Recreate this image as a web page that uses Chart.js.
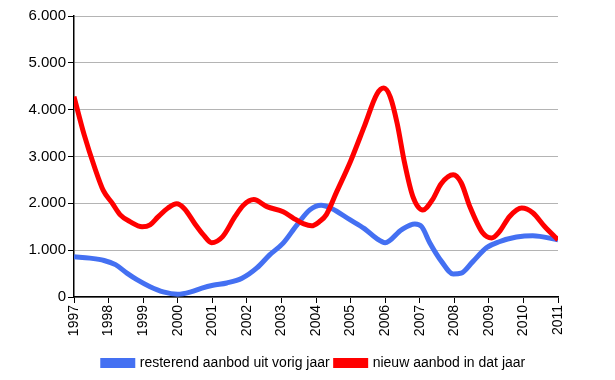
<!DOCTYPE html>
<html>
<head>
<meta charset="utf-8">
<script src="https://cdn.jsdelivr.net/npm/chart.js@4/dist/chart.umd.min.js"></script>
<style>
  html, body { margin: 0; padding: 0; background: #fff; }
  #wrap { width: 615px; height: 380px; }
</style>
</head>
<body>
<div id="wrap"><canvas id="myChart" width="615" height="380"></canvas></div>
<script>
// Reeksen
const blueLabel = 'resterend aanbod uit vorig jaar';
const redLabel = 'nieuw aanbod in dat jaar';

const blueYears  = [1997, 1997.46, 1997.87, 1998.2, 1998.53, 1998.82, 1999.2, 1999.58, 2000, 2000.38, 2000.7, 2001.02, 2001.42, 2001.86, 2002.29, 2002.66, 2003.05, 2003.45, 2003.82, 2004.15, 2004.45, 2004.98, 2005.4, 2005.75, 2006, 2006.48, 2006.86, 2007.06, 2007.29, 2007.64, 2007.97, 2008.2, 2008.53, 2008.93, 2009.3, 2009.8, 2010.27, 2011];
const blueValues = [860, 830, 780, 690, 510, 370, 220, 110, 60, 110, 190, 250, 300, 400, 620, 900, 1150, 1540, 1860, 1960, 1890, 1650, 1460, 1250, 1160, 1440, 1560, 1500, 1160, 750, 490, 510, 750, 1050, 1180, 1280, 1310, 1220];

const redYears  = [1997, 1997.3, 1997.6, 1997.85, 1998.1, 1998.33, 1998.62, 1998.97, 1999.2, 1999.43, 1999.72, 1999.97, 2000.2, 2000.5, 2000.75, 2000.98, 2001.3, 2001.66, 2001.9, 2002.2, 2002.58, 2003.05, 2003.35, 2003.65, 2003.87, 2004.1, 2004.3, 2004.6, 2005.0, 2005.4, 2005.76, 2005.96, 2006.15, 2006.35, 2006.56, 2006.8, 2007.09, 2007.37, 2007.62, 2007.97, 2008.2, 2008.45, 2008.82, 2009.08, 2009.3, 2009.6, 2009.95, 2010.27, 2010.62, 2011];
const redValues = [4280, 3450, 2760, 2270, 2010, 1760, 1610, 1500, 1540, 1710, 1900, 1990, 1880, 1560, 1320, 1160, 1290, 1720, 1960, 2080, 1930, 1820, 1680, 1560, 1520, 1610, 1760, 2250, 2900, 3650, 4330, 4460, 4270, 3700, 2870, 2150, 1860, 2080, 2420, 2610, 2440, 1930, 1370, 1260, 1390, 1720, 1900, 1800, 1500, 1220];

const yearTicks = [1997, 1998, 1999, 2000, 2001, 2002, 2003, 2004, 2005, 2006, 2007, 2008, 2009, 2010, 2011];

// 6000 -> "6.000"
function nlNumber(v) {
    return String(Math.round(v)).replace(/\B(?=(\d{3})+(?!\d))/g, '.');
}

function toPoints(xs, ys) {
    return xs.map((x, i) => ({ x: x, y: ys[i] }));
}

const family = '"Liberation Sans", Arial, sans-serif';

const ctx = document.getElementById('myChart').getContext('2d');
const chart = new Chart(ctx, {
    type: 'line',
    data: {
        datasets: [{
            label: blueLabel,
            data: toPoints(blueYears, blueValues),
            borderColor: '#4470f2',
            backgroundColor: '#4470f2',
            borderWidth: 5,
            pointRadius: 0,
            cubicInterpolationMode: 'monotone',
            fill: false,
            order: 1
        }, {
            label: redLabel,
            data: toPoints(redYears, redValues),
            borderColor: '#ff0000',
            backgroundColor: '#ff0000',
            borderWidth: 5,
            pointRadius: 0,
            cubicInterpolationMode: 'monotone',
            fill: false,
            order: 0   // rood bovenop
        }]
    },
    options: {
        responsive: false,
        animation: false,
        layout: { padding: { left: 13, right: 0, top: 16, bottom: 0 } },
        plugins: {
            tooltip: { enabled: false },
            legend: {
                position: 'bottom',
                labels: {
                    font: { family: family, size: 14 },
                    color: '#000',
                    boxWidth: 30,
                    boxHeight: 5,
                    padding: 6,
                    sort: (a, b) => a.datasetIndex - b.datasetIndex
                }
            }
        },
        scales: {
            x: {
                type: 'linear',
                min: 1997,
                max: 2011,
                afterBuildTicks: axis => { axis.ticks = yearTicks.map(v => ({ value: v })); },
                afterFit: axis => { axis.height = 53; },
                ticks: {
                    font: { family: family, size: 14 },
                    color: '#000',
                    minRotation: 90,
                    maxRotation: 90,
                    autoSkip: false,
                    padding: 2,
                    callback: v => String(v)
                },
                grid: { drawOnChartArea: false, tickLength: 6, color: '#000' },
                border: { color: '#000', width: 1.5 }
            },
            y: {
                min: 0,
                max: 6000,
                afterFit: axis => { axis.width = 61; },
                ticks: {
                    stepSize: 1000,
                    font: { family: family, size: 15 },
                    color: '#000',
                    padding: 2,
                    callback: v => nlNumber(v)
                },
                grid: { color: '#b4b4b4', tickColor: '#000', tickLength: 6 },
                border: { color: '#000', width: 1.5 }
            },
            // lege rechteras: alleen ruimte rechts van het plotvlak
            yRight: {
                position: 'right',
                min: 0,
                max: 6000,
                afterFit: axis => { axis.width = 57; },
                ticks: { display: false },
                grid: { display: false },
                border: { display: false }
            }
        }
    }
});
</script>
</body>
</html>
